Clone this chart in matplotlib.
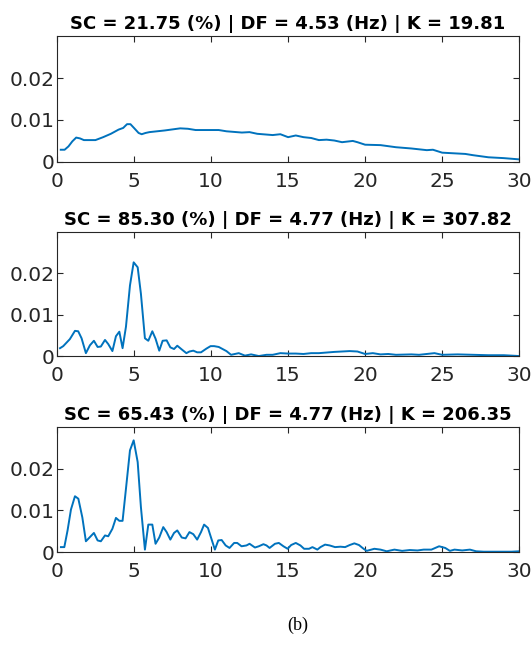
import matplotlib
matplotlib.use("Agg")
import matplotlib.pyplot as plt

# spectra (frequency in Hz, amplitude)
f1 = [0.25, 0.5, 0.75, 1.0, 1.25, 1.5, 1.75, 2.0, 2.5, 3.0, 3.5, 4.0, 4.3, 4.55, 4.77,
      5.0, 5.3, 5.5, 5.75, 6.0, 7.0, 8.0, 8.5, 9.0, 10.0, 10.5, 11.0, 12.0, 12.5, 13.0,
      14.0, 14.5, 15.0, 15.5, 16.0, 16.5, 17.0, 17.5, 18.0, 18.5, 19.2, 19.5, 20.0, 21.0,
      22.0, 23.0, 24.0, 24.4, 25.0, 26.0, 26.5, 27.0, 28.0, 29.0, 30.0]
s1 = [0.0029, 0.0029, 0.0037, 0.0049, 0.0058, 0.0056, 0.0052, 0.0052, 0.0052, 0.0059,
      0.0067, 0.0077, 0.0081, 0.0090, 0.0090, 0.0081, 0.0069, 0.0066, 0.0069, 0.0071,
      0.0075, 0.0080, 0.0079, 0.0076, 0.0076, 0.0076, 0.0073, 0.0070, 0.0071, 0.0067,
      0.0064, 0.0066, 0.0059, 0.0063, 0.0059, 0.0057, 0.0052, 0.0053, 0.0051, 0.0047,
      0.0050, 0.0047, 0.0041, 0.0040, 0.0035, 0.0032, 0.0028, 0.0029, 0.0022, 0.0020,
      0.0019, 0.0016, 0.0011, 0.0009, 0.0006]

f2 = [0.2, 0.41, 0.84, 1.17, 1.38, 1.6, 1.88, 2.14, 2.4, 2.64, 2.85, 3.12, 3.33, 3.6,
      3.83, 4.05, 4.26, 4.48, 4.74, 4.98, 5.24, 5.45, 5.71, 5.93, 6.19, 6.4, 6.64, 6.86,
      7.12, 7.36, 7.6, 7.81, 8.1, 8.4, 8.6, 8.85, 9.1, 9.35, 9.7, 9.97, 10.2, 10.5, 11.0,
      11.3, 11.8, 12.2, 12.6, 13.1, 13.6, 14.0, 14.5, 15.0, 15.5, 16.0, 16.5, 17.0, 18.0,
      19.0, 19.5, 20.0, 20.5, 21.0, 21.5, 22.0, 23.0, 23.5, 24.5, 25.0, 26.0, 27.0, 28.0,
      29.0, 30.0]
s2 = [0.0019, 0.0024, 0.0041, 0.0061, 0.0060, 0.0043, 0.0007, 0.0026, 0.0037, 0.0022,
      0.0023, 0.0039, 0.0029, 0.0012, 0.0048, 0.0059, 0.0019, 0.0071, 0.0171, 0.0227,
      0.0215, 0.0151, 0.0043, 0.0037, 0.0060, 0.0042, 0.0013, 0.0037, 0.0038, 0.0021,
      0.0017, 0.0025, 0.0016, 0.0007, 0.0011, 0.0013, 0.0009, 0.0009, 0.0018, 0.0024,
      0.0024, 0.0022, 0.0012, 0.0003, 0.0007, 0.0001, 0.0004, 0.0000, 0.0003, 0.0003,
      0.0007, 0.0006, 0.0006, 0.0005, 0.0007, 0.0007, 0.0010, 0.0012, 0.0011, 0.0005,
      0.0007, 0.0004, 0.0005, 0.0003, 0.0004, 0.0003, 0.0007, 0.0003, 0.0004, 0.0003,
      0.0002, 0.0002, 0.0000]

f3 = [0.26, 0.48, 0.69, 0.91, 1.17, 1.39, 1.65, 1.88, 2.14, 2.4, 2.64, 2.85, 3.12, 3.33,
      3.6, 3.83, 4.05, 4.26, 4.48, 4.74, 4.98, 5.24, 5.45, 5.71, 5.93, 6.19, 6.4, 6.64,
      6.9, 7.12, 7.36, 7.6, 7.81, 8.1, 8.35, 8.6, 8.85, 9.1, 9.35, 9.55, 9.8, 10.06, 10.25,
      10.47, 10.69, 10.95, 11.2, 11.5, 11.7, 11.98, 12.3, 12.5, 12.85, 13.1, 13.4, 13.6,
      13.8, 14.15, 14.4, 14.7, 14.97, 15.2, 15.5, 15.8, 16.04, 16.36, 16.58, 16.9, 17.1,
      17.4, 17.7, 18.05, 18.4, 18.7, 19.0, 19.3, 19.6, 19.9, 20.1, 20.6, 21.0, 21.4,
      21.9, 22.4, 22.9, 23.4, 23.8, 24.3, 24.8, 25.2, 25.5, 25.8, 26.3, 26.8, 27.2, 27.7,
      28.5, 29.5, 30.0]
s3 = [0.0012, 0.0012, 0.0052, 0.0102, 0.0134, 0.0128, 0.0083, 0.0026, 0.0036, 0.0046,
      0.0028, 0.0026, 0.0040, 0.0038, 0.0056, 0.0082, 0.0075, 0.0075, 0.0152, 0.0244,
      0.0268, 0.0216, 0.0108, 0.0006, 0.0066, 0.0066, 0.0020, 0.0035, 0.0060, 0.0048,
      0.0030, 0.0046, 0.0052, 0.0035, 0.0033, 0.0048, 0.0043, 0.0030, 0.0048, 0.0066,
      0.0058, 0.0028, 0.0006, 0.0028, 0.0029, 0.0016, 0.0010, 0.0022, 0.0022, 0.0014,
      0.0016, 0.0020, 0.0011, 0.0014, 0.0019, 0.0016, 0.0010, 0.0020, 0.0022, 0.0014,
      0.0008, 0.0017, 0.0022, 0.0016, 0.0008, 0.0008, 0.0012, 0.0006, 0.0012, 0.0018,
      0.0016, 0.0012, 0.0013, 0.0012, 0.0017, 0.0021, 0.0017, 0.0008, 0.0003, 0.0008,
      0.0006, 0.0002, 0.0006, 0.0003, 0.0005, 0.0004, 0.0006, 0.0006, 0.0014, 0.0010,
      0.0003, 0.0006, 0.0004, 0.0006, 0.0002, 0.0001, 0.0001, 0.0001, 0.0002]

titles = ["SC = 21.75 (%) | DF = 4.53 (Hz) | K = 19.81",
          "SC = 85.30 (%) | DF = 4.77 (Hz) | K = 307.82",
          "SC = 65.43 (%) | DF = 4.77 (Hz) | K = 206.35"]
xticks = [0, 5, 10, 15, 20, 25, 30]
yticks = [0, 0.01, 0.02]
ylabels = ["0", "0.01", "0.02"]

plt.rcParams["font.family"] = ["DejaVu Sans"]

fig = plt.figure(figsize=(5.32, 6.45), dpi=100)
boxes = [[0.107, 0.749, 0.869, 0.195],
         [0.107, 0.448, 0.869, 0.192],
         [0.107, 0.144, 0.869, 0.194]]
grey = "#262626"

for box, f, s, t in zip(boxes, [f1, f2, f3], [s1, s2, s3], titles):
    ax = fig.add_axes(box)
    ax.plot(f, s, color="#0072BD", lw=1.4)
    ax.set_xlim(0, 30)
    ax.set_ylim(0, 0.03)
    ax.set_xticks(xticks)
    ax.set_yticks(yticks)
    ax.set_yticklabels(ylabels)
    ax.tick_params(direction="in", length=4, width=0.8, colors=grey,
                   labelsize=14.5, top=True, right=True)
    ax.tick_params(axis="x", pad=7)
    ax.tick_params(axis="y", pad=2)
    for sp in ax.spines.values():
        sp.set_color(grey)
        sp.set_linewidth(0.8)
    ax.set_title(t, fontsize=13, fontweight="bold", pad=5)

fig.text(0.56, 0.031, "(b)", ha="center", va="center",
         family=["Liberation Serif", "DejaVu Serif"], fontsize=13)

fig.savefig("out.png", dpi=100)
